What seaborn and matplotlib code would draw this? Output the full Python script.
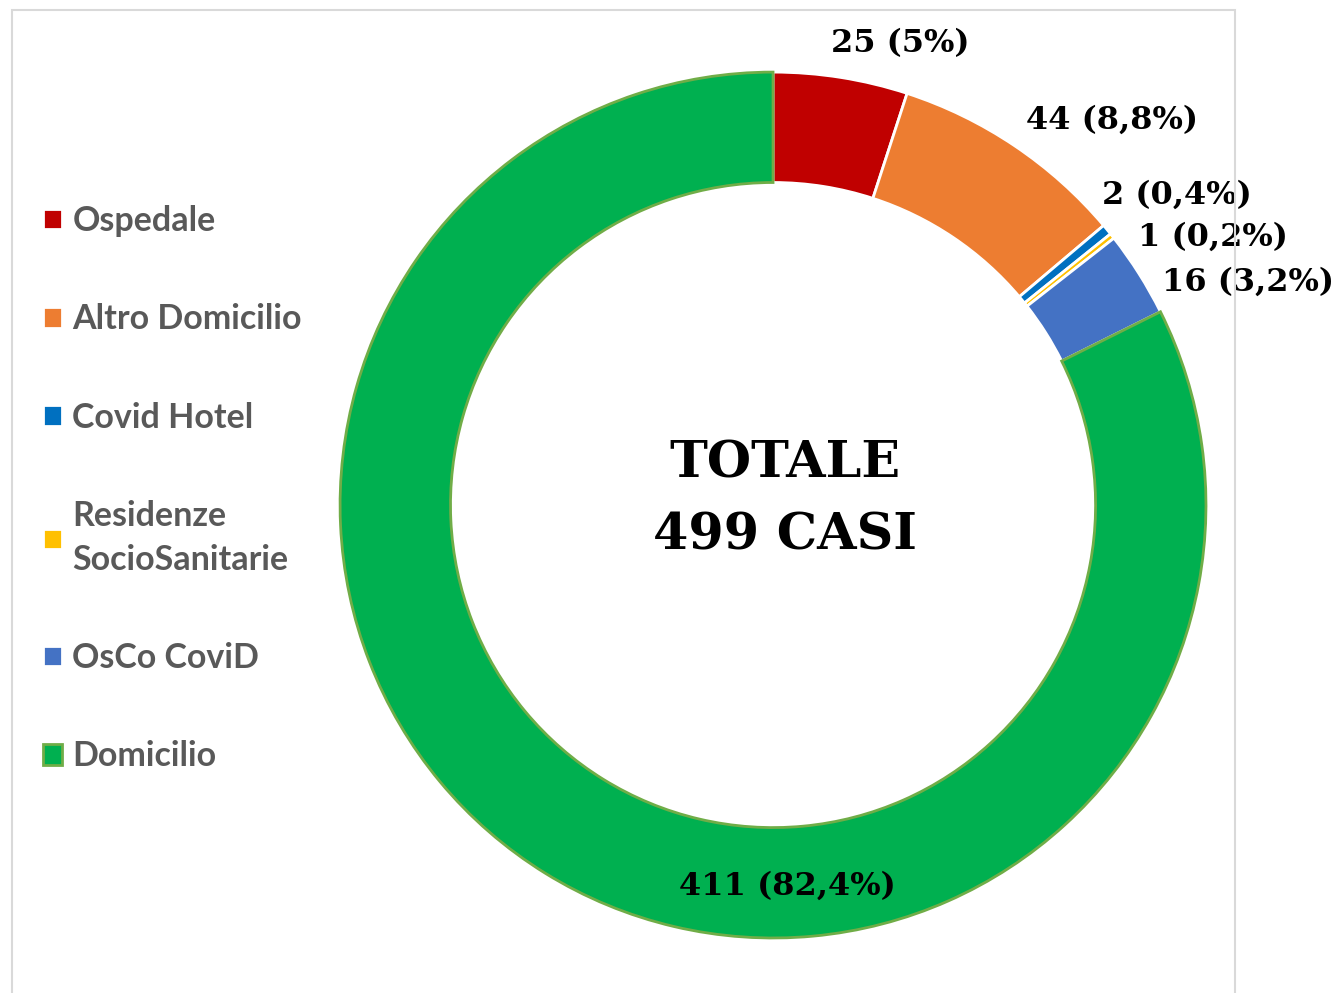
import matplotlib
matplotlib.use("Agg")
import matplotlib.pyplot as plt
from matplotlib.patches import Rectangle
import seaborn as sns

# data
categories = ["Ospedale", "Altro Domicilio", "Covid Hotel",
              "Residenze\nSocioSanitarie", "OsCo CoviD", "Domicilio"]
cases = [25, 44, 2, 1, 16, 411]
colors = ["#C00000", "#ED7D31", "#0070C0", "#FFC000", "#4472C4", "#00B050"]

# where Excel dropped the data labels (data coords, ring radius = 1)
label_pos = [(0.293, 1.067), (0.783, 0.889), (0.933, 0.716),
             (1.016, 0.619), (1.097, 0.515), (0.032, -0.880)]

sns.set_theme(style="white")

total = sum(cases)


def pct_text(v):
    p = round(v / total * 100, 1)
    s = f"{p:.1f}".replace(".", ",")
    if s.endswith(",0"):
        s = s[:-2]
    return f"{v} ({s}%)"


fig = plt.figure(figsize=(13.35, 9.93), dpi=100)
ax = fig.add_axes([0.2547, 0.0554, 0.6487, 0.872])

wedges, _ = ax.pie(cases, colors=colors, startangle=90, counterclock=False,
                   radius=1, wedgeprops=dict(width=0.255, edgecolor="white", linewidth=2))
wedges[-1].set_edgecolor("#70AD47")
ax.set_xlim(-1, 1)
ax.set_ylim(-1, 1)
ax.set_aspect("equal")
ax.axis("off")

for v, (x, y) in zip(cases, label_pos):
    ax.text(x, y, pct_text(v), ha="center", va="center", fontsize=23,
            fontweight="bold", family="DejaVu Serif", color="black")

ax.text(0.028, 0.012, f"TOTALE\n{total} CASI", ha="center", va="center",
        fontsize=36.5, fontweight="bold", family="DejaVu Serif", color="black",
        linespacing=1.6)

leg = ax.legend(wedges, categories, loc="upper left",
                bbox_to_anchor=(43 / 1335, 1 - 205 / 993), bbox_transform=fig.transFigure,
                frameon=False, borderpad=0, borderaxespad=0,
                handlelength=0.56, handleheight=0.56, handletextpad=0.3,
                labelspacing=1.95,
                prop=dict(family="Lato", weight="bold", size=24.5))
for t in leg.get_texts():
    t.set_color("#595959")
leg.get_texts()[3].set_linespacing(1.45)

# chart area border
fig.add_artist(Rectangle((12 / 1335, -0.1), (1235 - 12) / 1335, 1.1 - 10 / 993,
                         transform=fig.transFigure, fill=False,
                         edgecolor="#D9D9D9", linewidth=1.5))

fig.savefig("out.png", dpi=100)
